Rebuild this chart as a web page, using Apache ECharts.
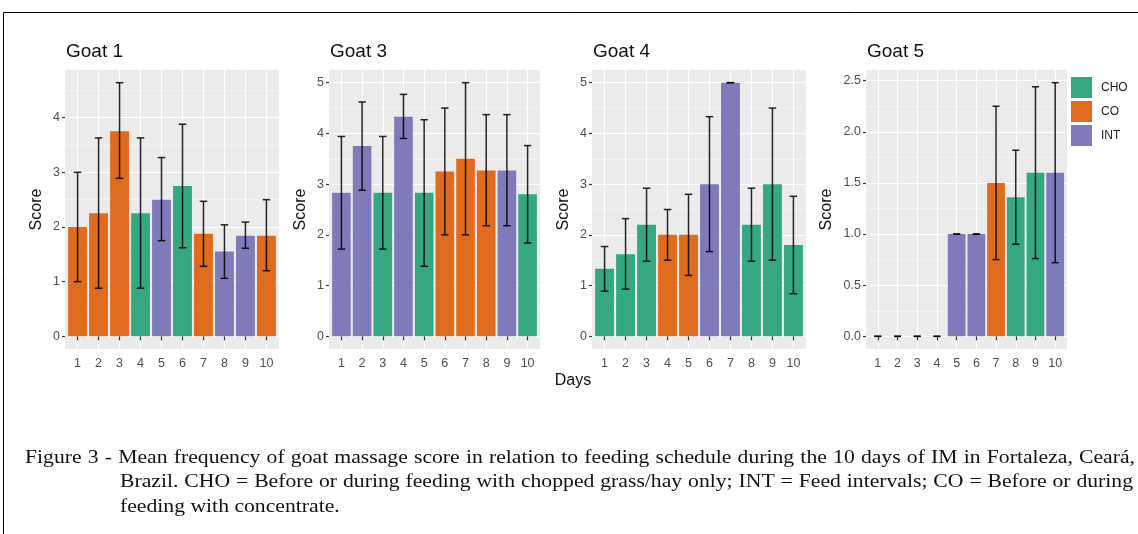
<!DOCTYPE html>
<html><head><meta charset="utf-8">
<script src="https://cdn.jsdelivr.net/npm/echarts@6/dist/echarts.min.js"></script>
<style>html,body{margin:0;padding:0;background:#fff}#c{width:1138px;height:534px}</style>
</head><body><div id="c"></div>
<script>
// ---------------- data ----------------
const days = [1, 2, 3, 4, 5, 6, 7, 8, 9, 10];
const goatNames = ['Goat 1', 'Goat 3', 'Goat 4', 'Goat 5'];
const groupNames = ['CHO', 'CO', 'INT'];

const goat1Group = ['CO', 'CO', 'CO', 'CHO', 'INT', 'CHO', 'CO', 'INT', 'INT', 'CO'];
const goat1Mean = [2.0, 2.25, 3.75, 2.25, 2.5, 2.75, 1.875, 1.55, 1.84, 1.84];
const goat1Low = [1.0, 0.88, 2.89, 0.88, 1.75, 1.62, 1.28, 1.06, 1.61, 1.2];
const goat1High = [3.0, 3.63, 4.64, 3.63, 3.27, 3.88, 2.47, 2.04, 2.09, 2.5];

const goat3Group = ['INT', 'INT', 'CHO', 'INT', 'CHO', 'CO', 'CO', 'CO', 'INT', 'CHO'];
const goat3Mean = [2.83, 3.75, 2.83, 4.33, 2.83, 3.25, 3.5, 3.27, 3.27, 2.8];
const goat3Low = [1.72, 2.88, 1.72, 3.9, 1.38, 2.0, 2.0, 2.18, 2.18, 1.84];
const goat3High = [3.94, 4.62, 3.94, 4.77, 4.27, 4.5, 5.0, 4.37, 4.37, 3.76];

const goat4Group = ['CHO', 'CHO', 'CHO', 'CO', 'CO', 'INT', 'INT', 'CHO', 'CHO', 'CHO'];
const goat4Mean = [1.33, 1.62, 2.2, 2.0, 2.0, 3.0, 5.0, 2.2, 3.0, 1.8];
const goat4Low = [0.89, 0.93, 1.48, 1.5, 1.2, 1.67, 5.0, 1.48, 1.5, 0.84];
const goat4High = [1.77, 2.32, 2.92, 2.5, 2.8, 4.33, 5.0, 2.92, 4.5, 2.76];

const goat5Group = ['CHO', 'CHO', 'CHO', 'CHO', 'INT', 'INT', 'CO', 'CHO', 'CHO', 'INT'];
const goat5Mean = [0, 0, 0, 0, 1.0, 1.0, 1.5, 1.36, 1.6, 1.6];
const goat5Low = [0, 0, 0, 0, 1.0, 1.0, 0.75, 0.9, 0.76, 0.72];
const goat5High = [0, 0, 0, 0, 1.0, 1.0, 2.25, 1.82, 2.44, 2.48];

const goat1Ticks = [0, 1, 2, 3, 4];
const goat1Minor = [0.5, 1.5, 2.5, 3.5, 4.5];
const goat3Ticks = [0, 1, 2, 3, 4, 5];
const goat3Minor = [0.5, 1.5, 2.5, 3.5, 4.5];
const goat4Ticks = [0, 1, 2, 3, 4, 5];
const goat4Minor = [0.5, 1.5, 2.5, 3.5, 4.5];
const goat5Ticks = [0, 0.5, 1.0, 1.5, 2.0, 2.5];
const goat5Minor = [0.25, 0.75, 1.25, 1.75, 2.25];

const captionLines = [
  'Figure 3 - Mean frequency of goat massage score in relation to feeding schedule during the 10 days of IM in Fortaleza, Ceará,',
  'Brazil. CHO = Before or during feeding with chopped grass/hay only; INT = Feed intervals; CO = Before or during',
  'feeding with concentrate.'
];

// ---------------- layout / style ----------------
const colors = { CHO: '#35a882', CO: '#df6b1f', INT: '#7f7aba' };
const panels = [
  { name: goatNames[0], group: goat1Group, mean: goat1Mean, low: goat1Low, high: goat1High, ticks: goat1Ticks, minor: goat1Minor, dec: 0 },
  { name: goatNames[1], group: goat3Group, mean: goat3Mean, low: goat3Low, high: goat3High, ticks: goat3Ticks, minor: goat3Minor, dec: 0 },
  { name: goatNames[2], group: goat4Group, mean: goat4Mean, low: goat4Low, high: goat4High, ticks: goat4Ticks, minor: goat4Minor, dec: 0 },
  { name: goatNames[3], group: goat5Group, mean: goat5Mean, low: goat5Low, high: goat5High, ticks: goat5Ticks, minor: goat5Minor, dec: 1 }
];
const gridPos = [
  { left: 65, width: 214 }, { left: 329, width: 211 }, { left: 592, width: 214 }, { left: 866, width: 201 }
];
const nameGaps = [20, 20, 20, 31];
const gridTop = 70, gridHeight = 279;

function renderBar(params, api) {
  const x = api.value(0), y = api.value(1);
  const p0 = api.coord([x - 0.45, 0]);
  const p1 = api.coord([x + 0.45, y]);
  return {
    type: 'rect',
    shape: { x: p0[0], y: Math.min(p0[1], p1[1]), width: p1[0] - p0[0], height: Math.abs(p0[1] - p1[1]) },
    style: { fill: api.visual('color') }
  };
}
function renderErr(params, api) {
  const x = api.value(0), lo = api.value(1), hi = api.value(2);
  const a = api.coord([x, lo]), b = api.coord([x, hi]);
  const l = api.coord([x - 0.18, lo]), r = api.coord([x + 0.18, lo]);
  const hw = (r[0] - l[0]) / 2;
  const st = { stroke: 'rgba(0,0,0,0.85)', lineWidth: 1.5 };
  return {
    type: 'group',
    children: [
      { type: 'line', shape: { x1: a[0], y1: a[1], x2: b[0], y2: b[1] }, style: st },
      { type: 'line', shape: { x1: a[0] - hw, y1: a[1], x2: a[0] + hw, y2: a[1] }, style: st },
      { type: 'line', shape: { x1: b[0] - hw, y1: b[1], x2: b[0] + hw, y2: b[1] }, style: st }
    ]
  };
}

const grid = [], xAxis = [], yAxis = [], series = [], title = [];
panels.forEach((p, i) => {
  const top = Math.max.apply(null, p.high);
  const ymin = -0.05 * top, ymax = top * 1.05;
  grid.push({ left: gridPos[i].left, width: gridPos[i].width, top: gridTop, height: gridHeight,
    show: true, backgroundColor: '#ebebeb', borderWidth: 0 });
  title.push({ text: p.name, left: gridPos[i].left + 1, top: 42, padding: 0,
    textStyle: { fontSize: 19, fontWeight: 'normal', color: '#111', fontFamily: 'Liberation Sans' } });
  xAxis.push({
    type: 'value', gridIndex: i, min: 0.4, max: 10.6,
    axisLine: { show: false },
    axisTick: { show: true, customValues: days, length: 4, lineStyle: { color: '#333', width: 1.2 } },
    axisLabel: { customValues: days, color: '#4d4d4d', fontSize: 12.5, margin: 8, fontFamily: 'Liberation Sans' },
    splitLine: { show: true, lineStyle: { color: '#ffffff', width: 1.1 } }
  });
  yAxis.push({
    type: 'value', gridIndex: i, min: ymin, max: ymax,
    name: 'Score', nameLocation: 'middle', nameGap: nameGaps[i], nameRotate: 90,
    nameTextStyle: { fontSize: 16, color: '#111', fontFamily: 'Liberation Sans' },
    axisLine: { show: false },
    axisTick: { show: true, customValues: p.ticks, length: 3, lineStyle: { color: '#333', width: 1.2 } },
    axisLabel: { customValues: p.ticks, color: '#4d4d4d', fontSize: 12.5, margin: 5, fontFamily: 'Liberation Sans',
      formatter: v => Number(v).toFixed(p.dec) },
    splitLine: { show: true, lineStyle: { color: '#ffffff', width: 1.1 } }
  });
  yAxis.push({
    type: 'value', gridIndex: i, min: ymin, max: ymax, position: 'left',
    axisLine: { show: false },
    axisTick: { show: false, customValues: p.minor },
    axisLabel: { show: false, customValues: p.minor },
    splitLine: { show: true, lineStyle: { color: '#f5f5f5', width: 0.7 } }
  });
  groupNames.forEach(g => {
    const d = [];
    days.forEach((day, k) => { if (p.group[k] === g) d.push([day, p.mean[k]]); });
    series.push({
      type: 'custom', name: g, xAxisIndex: i, yAxisIndex: 2 * i, data: d,
      itemStyle: { color: colors[g] }, renderItem: renderBar, encode: { x: 0, y: 1 }, z: 2, silent: true
    });
  });
  series.push({
    type: 'custom', name: 'err' + i, xAxisIndex: i, yAxisIndex: 2 * i,
    data: days.map((day, k) => [day, p.low[k], p.high[k]]),
    renderItem: renderErr, encode: { x: 0, y: [1, 2] }, z: 3, silent: true
  });
});

// caption with justified lines (text measured with canvas)
const capFont = 18, capFamily = '"Liberation Serif", "Times New Roman", serif';
const mctx = document.createElement('canvas').getContext('2d');
mctx.font = capFont + 'px ' + capFamily;
const capSpecs = [
  { left: 25, right: 1135, y: 458, justify: true },
  { left: 120, right: 1133, y: 482, justify: true },
  { left: 120, right: 0, y: 507, justify: false }
];
// horizontal scale so that the first line fits with normal word spacing
const line1Natural = mctx.measureText(captionLines[0]).width;
const capScale = (capSpecs[0].right - capSpecs[0].left) / line1Natural * 0.985;
const graphic = [];
captionLines.forEach((line, li) => {
  const spec = capSpecs[li];
  const words = line.split(' ');
  const widths = words.map(w => mctx.measureText(w).width * capScale);
  const spaceW = mctx.measureText(' ').width * capScale;
  let gap = spaceW;
  if (spec.justify) {
    const sum = widths.reduce((a, b) => a + b, 0);
    gap = (spec.right - spec.left - sum) / (words.length - 1);
  }
  let x = spec.left;
  words.forEach((w, k) => {
    graphic.push({ type: 'text', x: x, y: spec.y, scaleX: capScale, silent: true,
      style: { text: w, x: 0, y: 0, fill: '#111', font: capFont + 'px ' + capFamily, verticalAlign: 'middle', align: 'left' } });
    x += widths[k] + gap;
  });
});
graphic.push({ type: 'text', x: 573, y: 381, silent: true,
  style: { text: 'Days', fill: '#111', font: '16px "Liberation Sans"', align: 'center', verticalAlign: 'middle' } });
graphic.push({ type: 'polyline', silent: true,
  shape: { points: [[1138, 12.5], [3.5, 12.5], [3.5, 534]] }, style: { stroke: '#000', lineWidth: 1, fill: null } });

const option = {
  animation: false,
  backgroundColor: '#ffffff',
  title, grid, xAxis, yAxis, series, graphic,
  legend: {
    data: groupNames, orient: 'vertical', left: 1071, top: 77, padding: 0,
    icon: 'rect', itemWidth: 21, itemHeight: 21, itemGap: 3,
    textStyle: { fontSize: 12, color: '#222', fontFamily: 'Liberation Sans', padding: [0, 0, 0, 4] },
    selectedMode: false
  }
};
const chart = echarts.init(document.getElementById('c'));
chart.setOption(option);
</script>
</body></html>
